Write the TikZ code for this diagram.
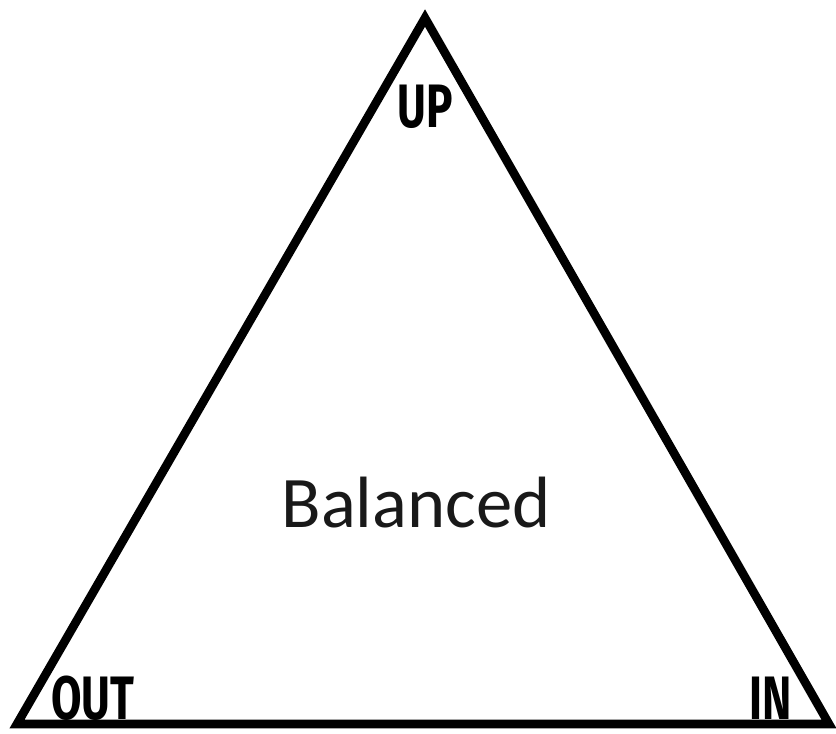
\documentclass[tikz,border=0pt]{standalone}
\usepackage{fontspec}
\setmainfont{Carlito}
\newfontfamily\handfont{Fira Sans}
\begin{document}
\begin{tikzpicture}[x=0.75pt,y=-0.75pt,
  tri/.style={line width=6.5pt,line join=miter,draw=black},
  corner/.style={font=\handfont\bfseries\fontsize{46}{46}\selectfont,inner sep=0pt,anchor=base},
  centre/.style={font=\fontsize{54.5}{54.5}\selectfont,inner sep=0pt,anchor=base,text=black!90}]
\useasboundingbox (0,0) rectangle (836,734);
\coordinate (apex) at (425,18);
\coordinate (bl) at (17,724);
\coordinate (br) at (829,724);
\draw[tri] (apex) -- (bl) -- (br) -- cycle;
\node[corner] (up) at (425,128) {\scalebox{0.72}[1]{UP}};
\node[corner] (out) at (93,719) {\scalebox{0.72}[1]{OUT}};
\node[corner] (in) at (771,719) {\scalebox{0.72}[1]{IN}};
\node[centre] (bal) at (416,527) {Balanced};
\end{tikzpicture}
\end{document}
